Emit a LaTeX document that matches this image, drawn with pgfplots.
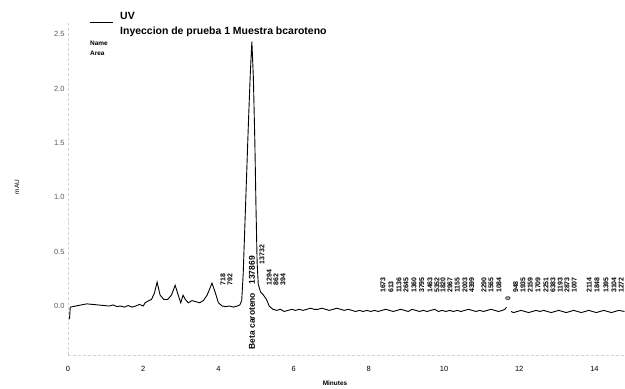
\documentclass[border=0pt]{standalone}
\usepackage{fontspec}
\setmainfont{Liberation Sans}
\usepackage{pgfplots}
\pgfplotsset{compat=1.18}

\begin{document}
\begin{tikzpicture}
\useasboundingbox (0,0) rectangle (625bp,389bp);
\begin{axis}[
  at={(68bp,34bp)}, anchor=south west,
  x=37.6bp, y=108.8bp,
  xmin=0, xmax=14.8, ymin=-0.45, ymax=2.6,
  axis x line*=bottom, axis y line*=left,
  axis line style={gray!35, densely dashed, -},
  major tick length=0pt,
  xtick={0,2,...,14},
  ytick={0,0.5,...,2.5},
  xticklabel style={font=\fontsize{7.5}{8}\selectfont, yshift=-8bp},
  yticklabel style={font=\fontsize{7.5}{8}\selectfont, gray!70!black},
  /pgf/number format/assume math mode=true,
  yticklabel={\pgfmathprintnumber[fixed, fixed zerofill, precision=1]{\tick}},
  clip=false,
  unbounded coords=jump,
]
% UV trace, first section (up to the break near 11.7 min)
\addplot[black, line width=0.9bp] coordinates {
(0.04,-0.12) (0.06,-0.01) (0.2,0.00) (0.35,0.01) (0.5,0.02) (0.65,0.015)
(0.8,0.01) (0.95,0.005) (1.1,0.0) (1.2,0.01) (1.3,-0.005) (1.4,0.0)
(1.5,-0.01) (1.6,0.005) (1.7,-0.01) (1.8,0.0) (1.9,0.015) (2.0,0.0)
(2.05,0.03) (2.15,0.05) (2.22,0.06) (2.3,0.12) (2.37,0.22) (2.45,0.10)
(2.55,0.06) (2.65,0.06) (2.75,0.10) (2.85,0.19) (2.95,0.08) (3.0,0.03)
(3.06,0.10) (3.12,0.06) (3.2,0.03) (3.3,0.05) (3.4,0.04) (3.5,0.03)
(3.6,0.05) (3.7,0.10) (3.83,0.21) (3.92,0.12) (4.0,0.03) (4.1,0.0)
(4.2,-0.005) (4.3,0.0) (4.4,-0.01) (4.5,0.0) (4.57,0.01) (4.62,0.05)
(4.66,0.3) (4.7,0.7) (4.75,1.2) (4.8,1.7) (4.85,2.15) (4.89,2.43)
(4.93,2.1) (4.97,1.5) (5.0,0.9) (5.03,0.4) (5.06,0.2) (5.12,0.13)
(5.2,0.1) (5.28,0.06) (5.35,0.0) (5.45,-0.03) (5.55,-0.04) (5.65,-0.03)
(5.75,-0.05) (5.85,-0.04) (5.95,-0.03) (6.05,-0.04) (6.15,-0.03) (6.25,-0.04)
(6.35,-0.03) (6.45,-0.02) (6.55,-0.03) (6.65,-0.03) (6.75,-0.02) (6.85,-0.03)
(6.95,-0.04) (7.05,-0.03) (7.15,-0.02) (7.25,-0.03) (7.35,-0.04) (7.45,-0.03)
(7.55,-0.04) (7.65,-0.05) (7.75,-0.04) (7.85,-0.05) (7.95,-0.04) (8.05,-0.05)
(8.15,-0.04) (8.25,-0.05) (8.35,-0.04) (8.45,-0.03) (8.55,-0.04) (8.65,-0.05)
(8.75,-0.04) (8.85,-0.03) (8.95,-0.04) (9.05,-0.05) (9.15,-0.03) (9.25,-0.04)
(9.35,-0.05) (9.45,-0.04) (9.55,-0.05) (9.65,-0.04) (9.75,-0.03) (9.85,-0.05)
(9.95,-0.04) (10.05,-0.05) (10.15,-0.04) (10.25,-0.05) (10.35,-0.04) (10.45,-0.05)
(10.55,-0.04) (10.65,-0.03) (10.75,-0.04) (10.85,-0.05) (10.95,-0.04) (11.05,-0.05)
(11.15,-0.04) (11.25,-0.03) (11.35,-0.04) (11.45,-0.05) (11.55,-0.04) (11.62,-0.03)
(11.66,-0.01)
(11.7,nan)
(11.78,-0.05) (11.85,-0.06) (11.95,-0.05) (12.05,-0.04) (12.15,-0.05) (12.25,-0.06)
(12.35,-0.05) (12.45,-0.04) (12.55,-0.05) (12.65,-0.04) (12.75,-0.05) (12.85,-0.06)
(12.95,-0.05) (13.05,-0.04) (13.15,-0.05) (13.25,-0.06) (13.35,-0.05) (13.45,-0.04)
(13.55,-0.05) (13.65,-0.06) (13.75,-0.05) (13.85,-0.04) (13.95,-0.05) (14.05,-0.06)
(14.15,-0.05) (14.25,-0.04) (14.35,-0.05) (14.45,-0.06) (14.55,-0.05) (14.65,-0.04)
(14.8,-0.05)
};

% peak annotations (area counts)
\begin{scope}[every node/.style={rotate=90, anchor=west, inner sep=0pt,
    font=\fontsize{7}{7}\selectfont\bfseries}]
\node at (axis cs:4.12,0.19) {718};
\node at (axis cs:4.31,0.19) {792};
\node[font=\fontsize{8.5}{9}\selectfont\bfseries] at (axis cs:4.89,-0.40) {Beta caroteno\quad 137869};
\node at (axis cs:5.16,0.38) {13732};
\node at (axis cs:5.35,0.19) {1294};
\node at (axis cs:5.53,0.19) {862};
\node at (axis cs:5.72,0.19) {394};
\node at (axis cs:8.38,0.12) {1673};
\node at (axis cs:8.59,0.12) {613};
\node at (axis cs:8.80,0.12) {1136};
\node at (axis cs:8.99,0.12) {2645};
\node at (axis cs:9.20,0.12) {1360};
\node at (axis cs:9.41,0.12) {3795};
\node at (axis cs:9.63,0.12) {1463};
\node at (axis cs:9.81,0.12) {5352};
\node at (axis cs:9.97,0.12) {1820};
\node at (axis cs:10.16,0.12) {2967};
\node at (axis cs:10.35,0.12) {1155};
\node at (axis cs:10.56,0.12) {2003};
\node at (axis cs:10.74,0.12) {4399};
\node at (axis cs:11.06,0.12) {2290};
\node at (axis cs:11.25,0.12) {1565};
\node at (axis cs:11.46,0.12) {1084};
\node at (axis cs:11.70,0.05) {0};
\node at (axis cs:11.91,0.12) {948};
\node at (axis cs:12.10,0.12) {1935};
\node at (axis cs:12.29,0.12) {2159};
\node at (axis cs:12.50,0.12) {1709};
\node at (axis cs:12.71,0.12) {2251};
\node at (axis cs:12.90,0.12) {6383};
\node at (axis cs:13.09,0.12) {1193};
\node at (axis cs:13.27,0.12) {2873};
\node at (axis cs:13.46,0.12) {1007};
\node at (axis cs:13.86,0.12) {2114};
\node at (axis cs:14.07,0.12) {1848};
\node at (axis cs:14.31,0.12) {1395};
\node at (axis cs:14.52,0.12) {3104};
\node at (axis cs:14.71,0.12) {1272};
\end{scope}
\end{axis}

% axis titles
\node[font=\fontsize{6.5}{7}\selectfont\bfseries] at (335bp,6bp) {Minutes};
\node[rotate=90, font=\fontsize{6.5}{7}\selectfont] at (17bp,202bp) {mAU};

% trace key
\draw[black, line width=1bp] (90bp,366bp) -- (113bp,366bp);
\node[anchor=west, inner sep=0pt, font=\fontsize{10.5}{12}\selectfont\bfseries] at (120bp,373bp) {UV};
\node[anchor=west, inner sep=0pt, font=\fontsize{10.5}{12}\selectfont\bfseries] at (120bp,357bp) {Inyeccion de prueba 1 Muestra bcaroteno};
\node[anchor=west, inner sep=0pt, font=\fontsize{6.5}{7}\selectfont\bfseries] at (90bp,346bp) {Name};
\node[anchor=west, inner sep=0pt, font=\fontsize{6.5}{7}\selectfont\bfseries] at (90bp,336bp) {Area};
\end{tikzpicture}
\end{document}
